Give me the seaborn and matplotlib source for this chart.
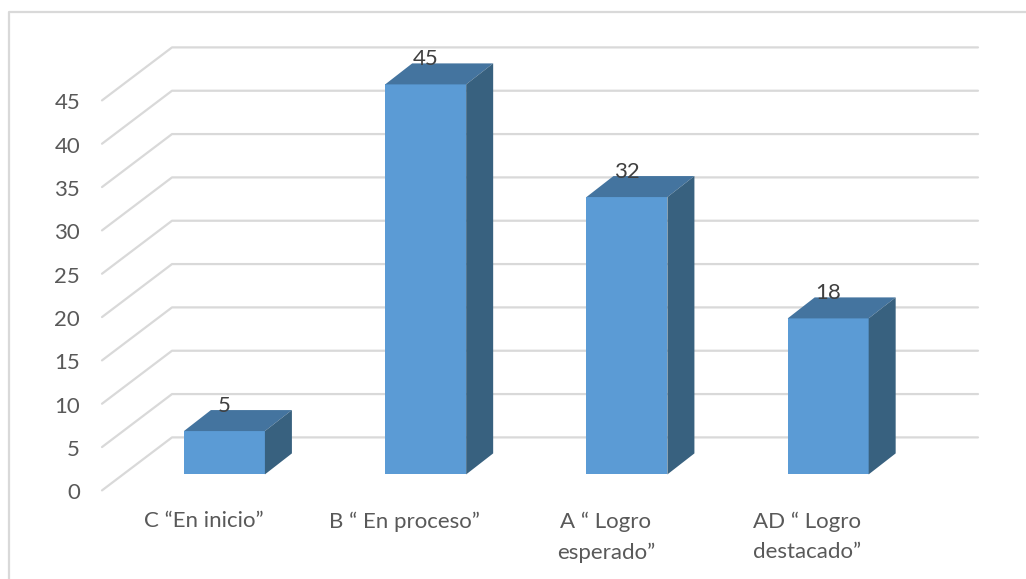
import matplotlib
matplotlib.use("Agg")
import matplotlib.pyplot as plt
import matplotlib.transforms as mtrans
from matplotlib.lines import Line2D
from matplotlib.patches import Polygon
import pandas as pd
import seaborn as sns

categorias = ["C “En inicio”", "B “ En proceso”", "A “ Logro\nesperado”", "AD “ Logro\ndestacado”"]
valores = [5, 45, 32, 18]
ticks_y = [0, 5, 10, 15, 20, 25, 30, 35, 40, 45]

ANCHO, ALTO = 1026, 579
C_FRENTE = "#5B9BD5"
C_TOPE = "#44749F"
C_LADO = "#38617F"
C_REJILLA = "#D9D9D9"
C_TEXTO = "#595959"
FONDO_X, FONDO_Y = 27, 21  # profundidad de las barras en px
TAM = 16

sns.set_theme(style="white")
plt.rcParams["font.family"] = ["Lato", "DejaVu Sans"]

fig = plt.figure(figsize=(ANCHO / 100, ALTO / 100), dpi=100)
ax = fig.add_axes([123.8 / ANCHO, (ALTO - 474.4) / ALTO, 805 / ANCHO, 390 / ALTO])

df = pd.DataFrame({"nivel": categorias, "valor": valores})
sns.barplot(data=df, x="nivel", y="valor", color=C_FRENTE, saturation=1,
            width=81 / 201.3, ax=ax, zorder=3, linewidth=0, edgecolor="none")
ax.set_xlim(-0.5, 3.5)
ax.set_ylim(0, 45)
ax.set_xlabel("")
ax.set_ylabel("")
ax.set_yticks(ticks_y)
sns.despine(ax=ax, left=True, bottom=True, top=True, right=True)
ax.patch.set_alpha(0)

# rejilla en "3D": diagonal lateral + linea de la pared del fondo
px = mtrans.IdentityTransform()
for t in ticks_y:
    y0 = ax.transData.transform((0, t))[1]
    fig.add_artist(Line2D([102, 172, 978], [y0 - 16, y0 + 37, y0 + 37], transform=px,
                          color=C_REJILLA, lw=1.6, zorder=0))

# caras superior y lateral de cada barra
for barra in ax.patches:
    b = barra.get_window_extent()
    tope = [(b.x0, b.y1), (b.x1, b.y1), (b.x1 + FONDO_X, b.y1 + FONDO_Y), (b.x0 + FONDO_X, b.y1 + FONDO_Y)]
    lado = [(b.x1, b.y0), (b.x1 + FONDO_X, b.y0 + FONDO_Y), (b.x1 + FONDO_X, b.y1 + FONDO_Y), (b.x1, b.y1)]
    ax.add_patch(Polygon(tope, closed=True, transform=px, facecolor=C_TOPE, lw=0, zorder=3, clip_on=False))
    ax.add_patch(Polygon(lado, closed=True, transform=px, facecolor=C_LADO, lw=0, zorder=3, clip_on=False))

for i, v in enumerate(valores):
    ax.annotate(str(v), xy=(i, v), xytext=(0, 18), textcoords="offset points", ha="center",
                va="center", fontsize=TAM, color="#404040", zorder=5, annotation_clip=False)

# las etiquetas van desplazadas respecto a las barras, como en el grafico 3D
ax.tick_params(axis="y", length=0, pad=31.5, labelsize=TAM, labelcolor=C_TEXTO)
ax.tick_params(axis="x", length=0, pad=26.5, labelsize=TAM, labelcolor=C_TEXTO)
for et in ax.get_yticklabels():
    et.set_transform(et.get_transform() + mtrans.ScaledTranslation(0, -17 / 100, fig.dpi_scale_trans))
for et in ax.get_xticklabels():
    et.set_transform(et.get_transform() + mtrans.ScaledTranslation(-21 / 100, 0, fig.dpi_scale_trans))
    et.set_linespacing(1.65)

# marco del grafico (solo se ve arriba e izquierda)
fig.add_artist(Line2D([9, 9, ANCHO], [0, ALTO - 12, ALTO - 12], transform=px, color=C_REJILLA, lw=1.6))

fig.savefig("out.png", dpi=100)
